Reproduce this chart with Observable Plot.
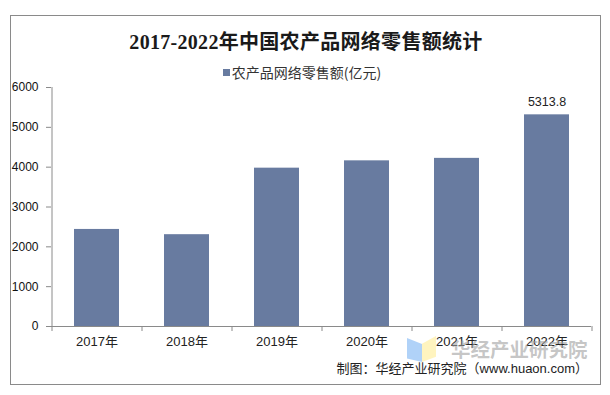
<!DOCTYPE html>
<html>
<head>
<meta charset="utf-8">
<script src="https://cdn.jsdelivr.net/npm/d3@7"></script>
<script src="https://cdn.jsdelivr.net/npm/@observablehq/plot@0.6"></script>
<style>
  html, body { margin: 0; padding: 0; background: #fff; }
  #wrap { position: relative; width: 610px; height: 395px; overflow: hidden; font-family: "Liberation Sans", Arial, "Noto Sans CJK SC", sans-serif; }
  #border { position: absolute; left: 10px; top: 15px; width: 591px; height: 370px; box-sizing: border-box; border: 1px solid #8a8a8a; }
  #chart { position: absolute; left: 0; top: 0; }
  #title { position: absolute; left: 0; width: 612px; top: 26px; text-align: center; font-family: "Liberation Serif", "DejaVu Serif", "Noto Sans CJK SC", serif; font-size: 20px; font-weight: bold; color: #1a1a1a; letter-spacing: 0.3px; }
  #legend { position: absolute; left: 0; width: 604px; top: 63px; text-align: center; font-size: 14px; color: #333; font-family: "Noto Sans CJK SC", sans-serif; line-height: 18px; }
  #legend .sw { display: inline-block; width: 7px; height: 7px; margin-right: 2px; vertical-align: 2px; }
  #caption { position: absolute; right: 22px; top: 358px; font-size: 13px; color: #222; font-family: "Liberation Sans", "Noto Sans CJK SC", sans-serif; }
  #wm { position: absolute; left: 451px; top: 338px; font-size: 19.5px; font-weight: bold; color: rgba(160,160,160,0.6); font-family: "Noto Sans CJK SC", sans-serif; line-height: 22px; }
  #logo1 { position: absolute; left: 407px; top: 338px; width: 15px; height: 24px; background: rgba(150,195,245,0.75); clip-path: polygon(0 0, 100% 25%, 100% 100%, 0 85%); }
  #logo2 { position: absolute; left: 422px; top: 336px; width: 14px; height: 26px; background: rgba(255,240,170,0.75); clip-path: polygon(0 30%, 100% 0, 100% 80%, 0 100%); }
</style>
</head>
<body>
<div id="wrap">
  <div id="border"></div>
  <div id="chart"></div>
  <div id="title"></div>
  <div id="legend"></div>
  <div id="logo1"></div>
  <div id="logo2"></div>
  <div id="wm"></div>
  <div id="caption"></div>
</div>
<script>
const years = ["2017年", "2018年", "2019年", "2020年", "2021年", "2022年"];
const sales = [2436.6, 2305, 3975, 4158.9, 4221, 5313.8];
const yTicks = [0, 1000, 2000, 3000, 4000, 5000, 6000];
const titleText = "2017-2022年中国农产品网络零售额统计";
const seriesName = "农产品网络零售额(亿元)";
const captionText = "制图：华经产业研究院（www.huaon.com）";
const watermarkText = "华经产业研究院";
const barColor = "#687ba0";

const data = years.map((y, i) => ({year: y, value: sales[i]}));

const W = 610, H = 395;
const mL = 51, mR = 19, mT = 87, mB = 69;
const step = (W - mL - mR) / years.length;

document.getElementById("title").textContent = titleText;
document.getElementById("legend").innerHTML = `<span class="sw" style="background:${barColor}"></span>${seriesName}`;
document.getElementById("caption").textContent = captionText;
document.getElementById("wm").textContent = watermarkText;

const chart = Plot.plot({
  width: W,
  height: H,
  marginLeft: mL,
  marginRight: mR,
  marginTop: mT,
  marginBottom: mB,
  style: {fontFamily: "'Liberation Sans', Arial, 'Noto Sans CJK SC', sans-serif", fontSize: "12px", color: "#111", background: "transparent"},
  x: {domain: years, paddingInner: 0.5, paddingOuter: 0.25, label: null},
  y: {domain: [0, 6000], label: null},
  marks: [
    Plot.barY(data, {x: "year", y: "value", fill: barColor}),
    Plot.ruleY([0], {stroke: "#8a8a8a"}),
    Plot.ruleX(years, {x: d => d, y1: 0, y2: 0, insetBottom: -5, dx: -step / 2, stroke: "#8a8a8a"}),
    Plot.ruleX(years.slice(-1), {x: d => d, y1: 0, y2: 0, insetBottom: -5, dx: step / 2, stroke: "#8a8a8a"}),
    Plot.ruleX(years.slice(0, 1), {x: d => d, y1: 0, y2: 6000, dx: -step / 2, stroke: "#8a8a8a"}),
    Plot.axisY({ticks: yTicks, tickSize: 5, tickPadding: 8, tickFormat: d => String(d), stroke: "#8a8a8a", fill: "#111", fontSize: 12, label: null}),
    Plot.axisX({tickSize: 0, tickPadding: 10, fontSize: 13, fill: "#222", label: null}),
    Plot.text(data.slice(-1), {x: "year", y: "value", text: d => d.value.toFixed(1), dy: -13, fontSize: 12.5, fill: "#222"})
  ]
});
document.getElementById("chart").appendChild(chart);
</script>
</body>
</html>
